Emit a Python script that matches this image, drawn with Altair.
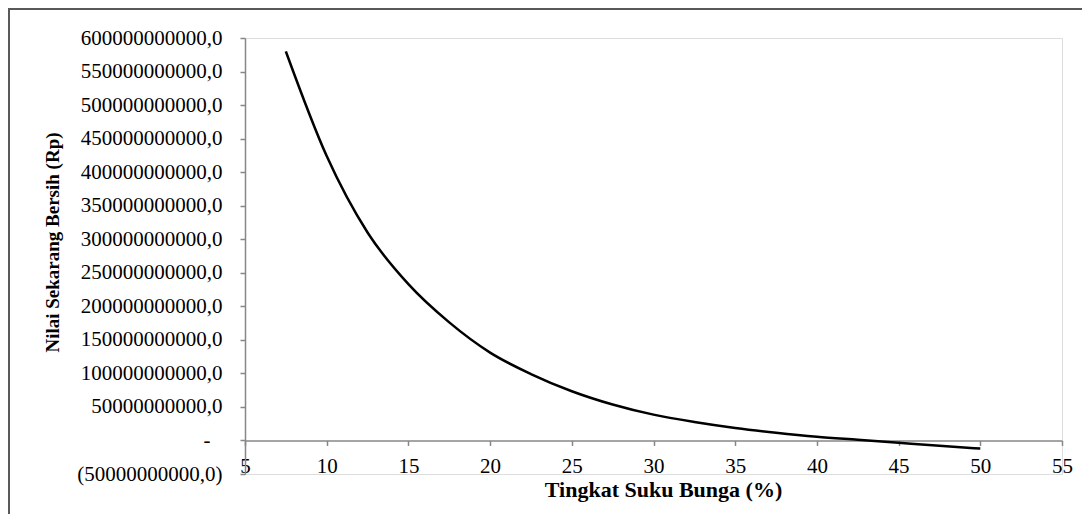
import altair as alt
import pandas as pd

# Interest rate (%) and Net Present Value (Rp)
rates = [7.5, 10, 12.5, 15, 17.5, 20, 22.5, 25, 27.5, 30, 32.5, 35, 37.5, 40, 42.5, 45, 47.5, 50]
npv = [580e9, 424e9, 310e9, 233e9, 176e9, 131e9, 99e9, 73.4e9, 53.6e9, 38.5e9, 27.6e9, 18.7e9,
       11.5e9, 5.5e9, 1e9, -3.5e9, -8e9, -12e9]

x_ticks = [5, 10, 15, 20, 25, 30, 35, 40, 45, 50, 55]
y_ticks = [-50000000000, 0, 50000000000, 100000000000, 150000000000, 200000000000,
           250000000000, 300000000000, 350000000000, 400000000000, 450000000000,
           500000000000, 550000000000, 600000000000]

df = pd.DataFrame({"rate": rates, "npv": npv})

W, H = 817, 436
y_min, y_max = -50e9, 600e9
x_axis_offset = -H * (0 - y_min) / (y_max - y_min)

FONT = "Liberation Serif"
AXIS_COLOR = "#878787"

label_expr = ("datum.value == 0 ? '-' : (datum.value < 0 ? "
              "'(' + format(-datum.value, 'd') + ',0)' : format(datum.value, 'd') + ',0')")

line = alt.Chart(df).mark_line(color="black", strokeWidth=2.5, interpolate="monotone").encode(
    x=alt.X("rate:Q",
            scale=alt.Scale(domain=[5, 55], nice=False, zero=False),
            axis=alt.Axis(values=x_ticks, title="Tingkat Suku Bunga (%)", grid=False,
                          offset=x_axis_offset, domainColor=AXIS_COLOR, domainWidth=1.5,
                          tickColor=AXIS_COLOR, tickWidth=1.5, tickSize=5,
                          labelFont=FONT, labelFontSize=21, labelColor="black",
                          labelPadding=10, labelFlush=False, labelOverlap=False,
                          titleFont=FONT, titleFontSize=22, titleFontWeight="bold",
                          titleColor="black", titleX=418, titleY=49,
                          titleBaseline="middle", titleAlign="center")),
    y=alt.Y("npv:Q",
            scale=alt.Scale(domain=[y_min, y_max], nice=False, zero=False),
            axis=alt.Axis(values=y_ticks, title="Nilai Sekarang Bersih (Rp)", grid=False,
                          labelExpr=label_expr,
                          domainColor=AXIS_COLOR, domainWidth=1.5,
                          tickColor=AXIS_COLOR, tickWidth=1.5, tickSize=5,
                          labelFont=FONT, labelFontSize=21, labelColor="black",
                          labelPadding={"condition": {"test": "datum.value == 0", "value": 30},
                                        "value": 18},
                          labelOverlap=False,
                          titleFont=FONT, titleFontSize=19, titleFontWeight="bold",
                          titleColor="black", titleX=-193, titleY=204, titleAngle=270,
                          titleBaseline="middle", titleAlign="center")),
)

frame = alt.Chart(alt.Data(values=[{"f": 1}])).mark_rect(
    filled=False, stroke="#595959", strokeWidth=2
).encode(
    x=alt.value(-236), x2=alt.value(W + 100),
    y=alt.value(-29), y2=alt.value(H + 200),
)

chart = alt.layer(frame, line).properties(
    width=W, height=H,
    autosize=alt.AutoSizeParams(type="none"),
    padding={"left": 237, "top": 30, "right": 20, "bottom": 40},
).configure_view(stroke=None).configure(background="white")

chart.save("out.html", embed_options={"renderer": "svg", "actions": False})
